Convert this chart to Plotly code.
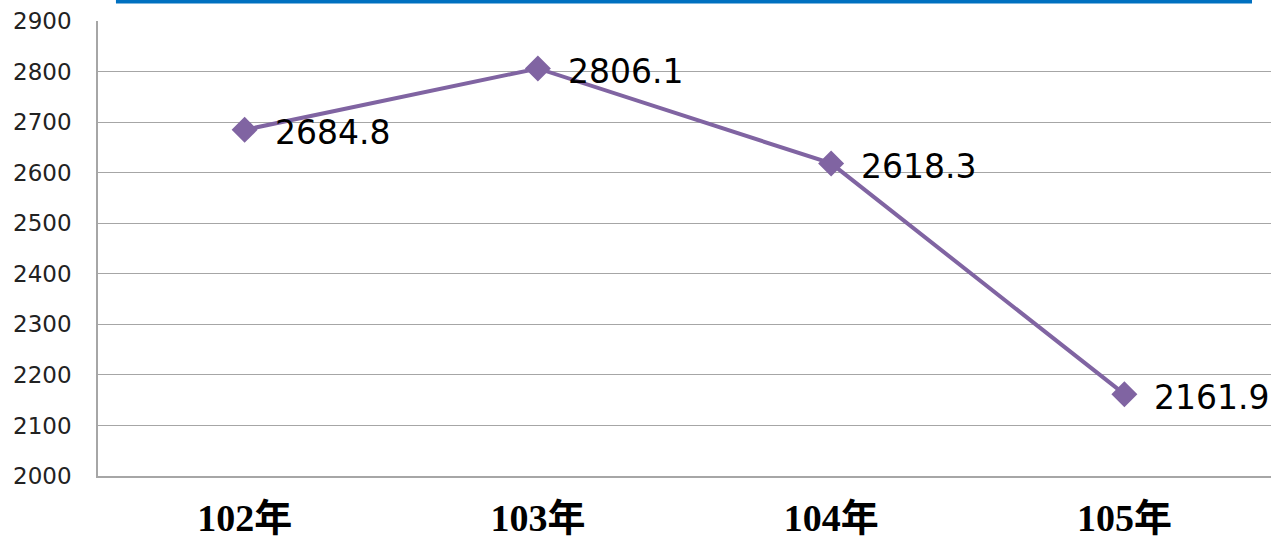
import plotly.graph_objects as go

categories = ["102年", "103年", "104年", "105年"]
values = [2684.8, 2806.1, 2618.3, 2161.9]
labels = ["2684.8", "2806.1", "2618.3", "2161.9"]

fig = go.Figure()
fig.add_trace(go.Scatter(
    x=categories, y=values, mode="lines+markers",
    line=dict(color="#8064A2", width=4),
    marker=dict(symbol="diamond", size=20, color="#8064A2"),
    cliponaxis=False, showlegend=False,
))

for c, v, t in zip(categories, values, labels):
    fig.add_annotation(x=c, y=v, text=t, showarrow=False,
                       xanchor="left", yanchor="middle", xshift=28, yshift=-3,
                       font=dict(family="DejaVu Sans", size=33, color="#000000"))

fig.add_shape(type="rect", xref="paper", yref="paper",
              x0=0.0153, x1=0.9838, y0=1.0385, y1=1.2,
              fillcolor="#0070C0", line=dict(width=0), layer="above")

fig.update_layout(
    width=1274, height=541,
    margin=dict(l=98, r=3, t=21, b=65),
    plot_bgcolor="white", paper_bgcolor="white",
    xaxis=dict(type="category", range=[-0.5, 3.5], showgrid=False,
               showline=True, linecolor="#A6A6A6", linewidth=1.5,
               ticks="", ticklabelstandoff=8, automargin=False,
               tickfont=dict(family="Liberation Serif, Noto Sans CJK TC", size=38, color="#000000", weight="bold")),
    yaxis=dict(range=[2000, 2900], dtick=100, tick0=2000,
               showgrid=True, gridcolor="#A6A6A6", gridwidth=1.2,
               showline=True, linecolor="#A6A6A6", linewidth=1.5,
               zeroline=False, ticks="", ticklabelstandoff=20, automargin=False,
               tickfont=dict(family="DejaVu Sans", size=23, color="#222222")),
)

fig.write_html("out.html", config={"displayModeBar": False},
               post_script="document.body.style.margin='0';document.body.style.overflow='hidden';")
